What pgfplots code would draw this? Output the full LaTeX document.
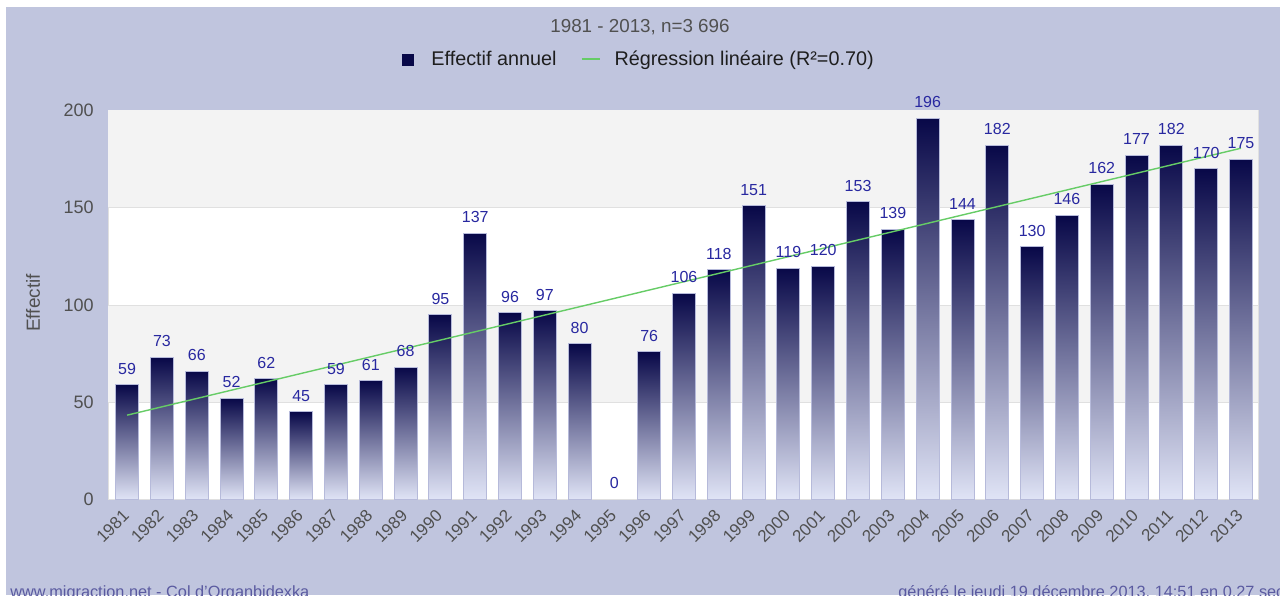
\documentclass[border=0pt]{standalone}
\usepackage{fontspec}
\setmainfont{Liberation Sans}
\usepackage{pgfplots}
\pgfplotsset{compat=1.18}
\usepackage{pgfplotstable}
\definecolor{bg}{RGB}{192,197,222}
\definecolor{band}{RGB}{243,243,243}
\definecolor{gridc}{RGB}{224,224,224}
\definecolor{bartop}{RGB}{8,8,72}
\definecolor{barbot}{RGB}{224,228,246}
\definecolor{barline}{RGB}{182,186,218}
\definecolor{valc}{RGB}{40,40,160}
\definecolor{regc}{RGB}{102,204,102}
\definecolor{tickc}{RGB}{80,80,80}
\definecolor{legc}{RGB}{30,30,30}
\definecolor{footc}{RGB}{90,90,160}

\pgfplotstableread{
x year y
0 1981 59
1 1982 73
2 1983 66
3 1984 52
4 1985 62
5 1986 45
6 1987 59
7 1988 61
8 1989 68
9 1990 95
10 1991 137
11 1992 96
12 1993 97
13 1994 80
14 1995 0
15 1996 76
16 1997 106
17 1998 118
18 1999 151
19 2000 119
20 2001 120
21 2002 153
22 2003 139
23 2004 196
24 2005 144
25 2006 182
26 2007 130
27 2008 146
28 2009 162
29 2010 177
30 2011 182
31 2012 170
32 2013 175
}\data

\begin{document}
\begin{tikzpicture}
\path[use as bounding box] (0,0) rectangle (640pt,297.5pt);
\fill[white] (0,0) rectangle (640pt,297.5pt);
\fill[bg] (3pt,0) rectangle (640pt,294pt);
\node[anchor=base, text=tickc, font=\fontsize{9.4}{11}\selectfont, inner sep=0pt] at (320pt,281.35pt) {1981 - 2013, n=3 696};
\node[rotate=90, text=tickc, font=\fontsize{9.5}{11}\selectfont, inner sep=0pt] at (16.5pt,146pt) {Effectif};
\node[anchor=base west, text=footc, font=\fontsize{8.15}{10}\selectfont, inner sep=0pt] at (5pt,-1pt) {www.migraction.net - Col d'Organbidexka};
\node[anchor=base west, text=footc, font=\fontsize{8.15}{10}\selectfont, inner sep=0pt] at (449pt,-1pt) {généré le jeudi 19 décembre 2013, 14:51 en 0.27 sec};
\begin{axis}[
  at={(54pt,47.75pt)}, anchor=south west,
  scale only axis, width=575pt, height=194.5pt,
  xmin=-0.55, xmax=32.49, ymin=0, ymax=200,
  ytick={0,50,100,150,200},
  xtick={0,...,32},
  xticklabels from table={\data}{year},
  axis background/.style={fill=white},
  axis line style={draw=gridc},
  tick style={draw=none},
  yticklabel style={inner sep=0pt, xshift=-7pt, text=tickc, font=\fontsize{9}{10}\selectfont},
  xticklabel style={xshift=-2.75pt, yshift=-4.25pt, rotate=45, anchor=north east, inner sep=0pt, text=tickc, font=\fontsize{8.5}{10}\selectfont},
  /pgf/number format/assume math mode=true,
  legend style={at={(0.4625,1)}, anchor=center, yshift=25.5pt, draw=none, fill=none, font=\fontsize{9.9}{11}\selectfont, text=legc, /tikz/every even column/.append style={column sep=10pt}},
  legend columns=2,
  legend cell align=left,
]
\fill[band] (axis cs:-0.55,150) rectangle (axis cs:32.49,200);
\fill[band] (axis cs:-0.55,50) rectangle (axis cs:32.49,100);
\draw[gridc] (axis cs:-0.55,50) -- (axis cs:32.49,50);
\draw[gridc] (axis cs:-0.55,100) -- (axis cs:32.49,100);
\draw[gridc] (axis cs:-0.55,150) -- (axis cs:32.49,150);
\pgfplotsinvokeforeach{0,...,13,15,16,...,32}{
\addplot[ybar, forget plot, bar width=11.5pt, draw=barline, line width=0.5pt, top color=bartop, bottom color=barbot,
  x filter/.expression={x==#1 ? x : nan}]
  table[x=x,y=y]{\data};
}
\addlegendimage{legend image code/.code={\fill[bartop] (0pt,-2.75pt) rectangle (5.5pt,2.75pt); \path[draw=none,fill=none] (5.5pt,0pt) -- (12.5pt,0pt);}}
\addlegendentry{Effectif annuel}
\addplot[regc, line width=0.7pt,
  legend image code/.code={\draw[regc, line width=1pt] (0pt,0pt) -- (9pt,0pt); \path[draw=none,fill=none] (9pt,0pt) -- (14.5pt,0pt);}]
  coordinates {(0,43.36) (32,180.6)};
\addlegendentry{Régression linéaire (R²=0.70)}
\addplot[draw=none, forget plot, point meta=y, nodes near coords,
  every node near coord/.append style={font=\fontsize{8}{10}\selectfont, text=valc, inner sep=0pt, yshift=5pt, anchor=south}]
  table[x=x,y=y]{\data};
\end{axis}
\end{tikzpicture}
\end{document}
